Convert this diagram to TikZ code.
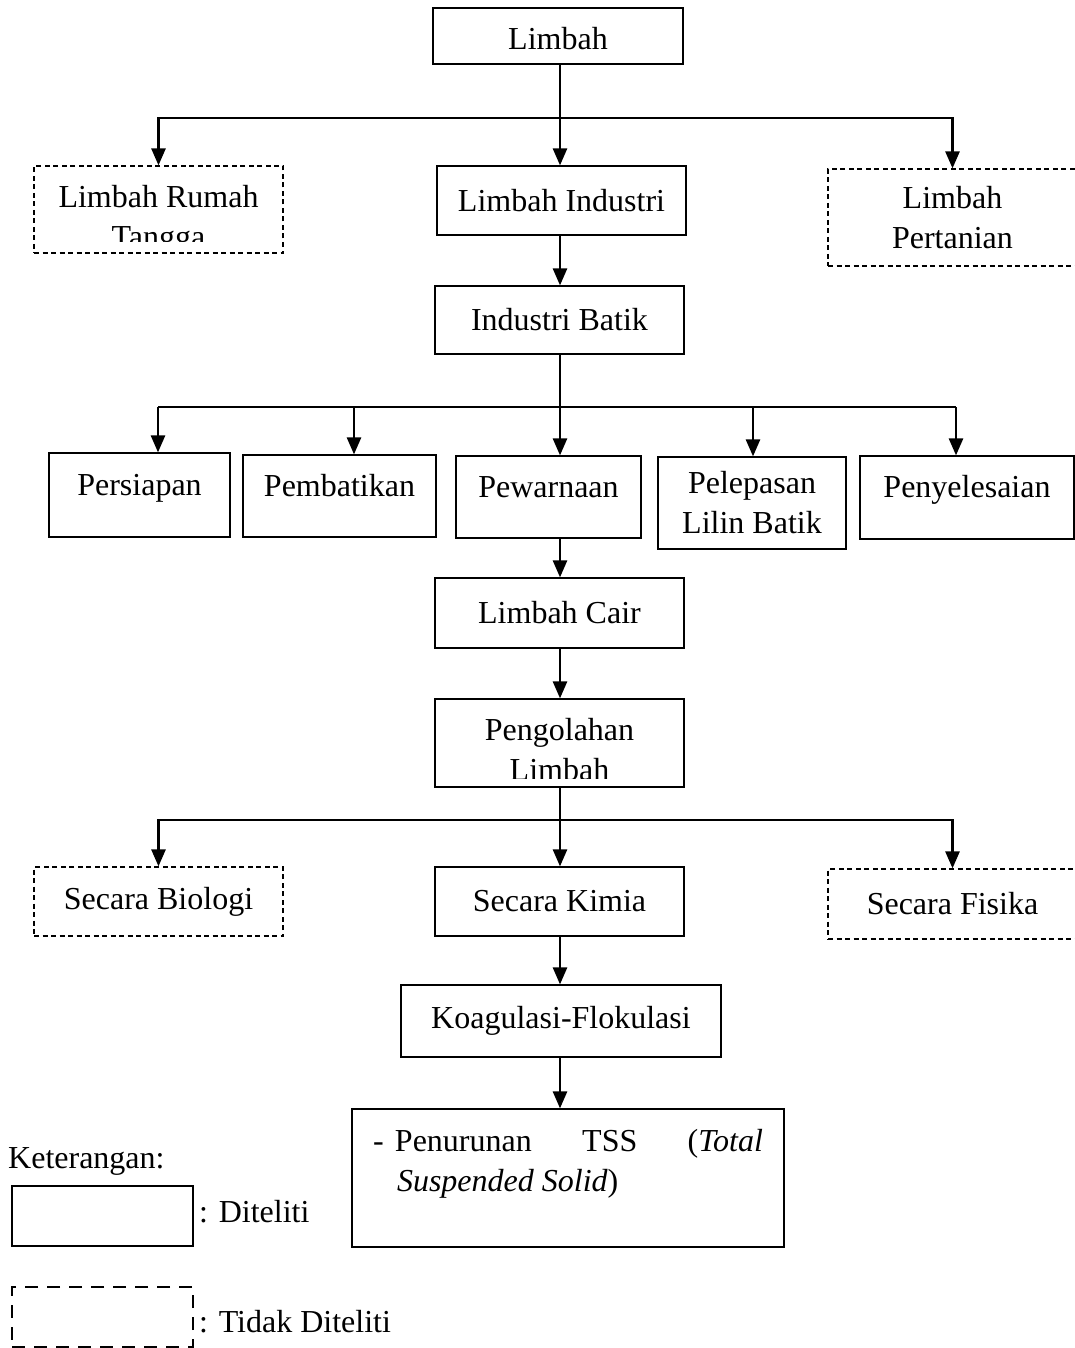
\documentclass[tikz,border=0pt]{standalone}
\usepackage{fontspec}
\setmainfont{Liberation Serif}
\usetikzlibrary{arrows.meta}
\usetikzlibrary{positioning}

\begin{document}
\begin{tikzpicture}[
    x=1pt, y=-1pt,
    font=\fontsize{32}{40}\selectfont,
    box/.style={draw, line width=1.2pt, inner sep=0pt, align=center},
    nobox/.style={box, dash pattern=on 5pt off 3.5pt},
    proc/.style={box, text height=20pt, text depth=20pt},
    link/.style={line width=2.6pt},
    >={Triangle[length=17pt, width=14pt]}]

    \useasboundingbox (0,0) rectangle (1075,1348);

    % limbah
    \node[box, minimum width=250, minimum height=56, text height=28pt, text depth=0pt] (lim) at (558,36) {Limbah};

    \node[nobox, minimum width=249, minimum height=87] (lrt) at (158.5,209.5) {};
    \begin{scope}
        \clip (lrt.north west) rectangle ([yshift=12pt]lrt.south east);
        \node[align=center, inner sep=0pt, anchor=north] (lrt-txt) at (158.5,185) {Limbah Rumah\\Tangga};
    \end{scope}
    \node[box, minimum width=249, minimum height=69] (lind) at (561.5,200.5) {Limbah Industri};
    \node[nobox, minimum width=249, minimum height=97] (lper) at (952.5,217.5) {Limbah\\Pertanian};

    % industri batik
    \node[box, minimum width=249, minimum height=68] (ib) at (559.5,320) {Industri Batik};

    % tahapan batik
    \node[proc, minimum width=181, minimum height=84] (per) at (139.5,495) {Persiapan};
    \node[proc, minimum width=193, minimum height=82] (pem) at (339.5,496) {Pembatikan};
    \node[proc, minimum width=185, minimum height=82] (pew) at (548.5,497) {Pewarnaan};
    \node[box, minimum width=188, minimum height=92] (pel) at (752,503) {Pelepasan\\Lilin Batik};
    \node[proc, minimum width=214, minimum height=83] (pny) at (967,497.5) {Penyelesaian};

    % limbah cair
    \node[box, minimum width=249, minimum height=70] (lc) at (559.5,613) {Limbah Cair};

    \node[box, minimum width=249, minimum height=88] (pl) at (559.5,743) {};
    \begin{scope}
        \clip (pl.north west) rectangle ([yshift=9pt]pl.south east);
        \node[align=center, inner sep=0pt, anchor=north] (pl-txt) at (559.5,718) {Pengolahan\\Limbah};
    \end{scope}

    % pengolahan
    \node[nobox, minimum width=249, minimum height=69] (sb) at (158.5,901.5) {Secara Biologi};
    \node[box, minimum width=249, minimum height=69] (sk) at (559.5,901.5) {Secara Kimia};
    \node[nobox, minimum width=249, minimum height=70] (sf) at (952.5,904) {Secara Fisika};

    \node[box, minimum width=320, minimum height=72] (kf) at (561,1021) {Koagulasi-Flokulasi};

    \node[box, inner xsep=21pt, inner ysep=0pt] (tss) at (568,1178)
        {\parbox[c][138pt][t]{390pt}{\vspace*{20pt}\noindent
        \makebox[22pt][l]{-}\makebox[368pt][s]{Penurunan TSS (\textit{Total}}\\
        \hspace*{24pt}\textit{Suspended Solid})}};

    % connectors
    \coordinate (j1) at (560,118);
    \draw[link, ->] (lim.south -| j1) -- (lind.north -| j1);
    \draw[link, ->] (j1) -| (lrt.north);
    \draw[link, ->] (j1) -| (lper.north);
    \draw[link, ->] (lind.south -| j1) -- (ib.north -| j1);

    \coordinate (j2) at (560,407);
    \coordinate (d1) at (158,407);
    \coordinate (d2) at (354,407);
    \coordinate (d4) at (753,407);
    \coordinate (d5) at (956,407);
    \draw[link] (d1) -- (d5);
    \draw[link, ->] (ib.south -| j2) -- (pew.north -| j2);
    \draw[link, ->] (d1) -- (d1 |- per.north);
    \draw[link, ->] (d2) -- (d2 |- pem.north);
    \draw[link, ->] (d4) -- (d4 |- pel.north);
    \draw[link, ->] (d5) -- (d5 |- pny.north);

    \draw[link, ->] (pew.south -| j2) -- (lc.north -| j2);
    \draw[link, ->] (lc.south -| j2) -- (pl.north -| j2);

    \coordinate (j3) at (560,820);
    \draw[link, ->] (pl.south -| j3) -- (sk.north -| j3);
    \draw[link, ->] (j3) -| (sb.north);
    \draw[link, ->] (j3) -| (sf.north);
    \draw[link, ->] (sk.south -| j3) -- (kf.north -| j3);
    \draw[link, ->] (kf.south -| j3) -- (tss.north -| j3);

    % keterangan
    \node[anchor=base west, inner sep=0pt] (ket) at (8,1168) {Keterangan:};
    \node[draw, line width=2.4pt, minimum width=181, minimum height=60, inner sep=0pt] (leg1) at (102.5,1216) {};
    \node[anchor=base west, inner sep=0pt] (leg1-txt) at (199,1222) {: Diteliti};
    \node[draw, line width=2.4pt, dash pattern=on 13pt off 9pt, minimum width=181, minimum height=60, inner sep=0pt] (leg2) at (102.5,1317) {};
    \node[anchor=base west, inner sep=0pt] (leg2-txt) at (199,1332) {: Tidak Diteliti};

\end{tikzpicture}
\end{document}
